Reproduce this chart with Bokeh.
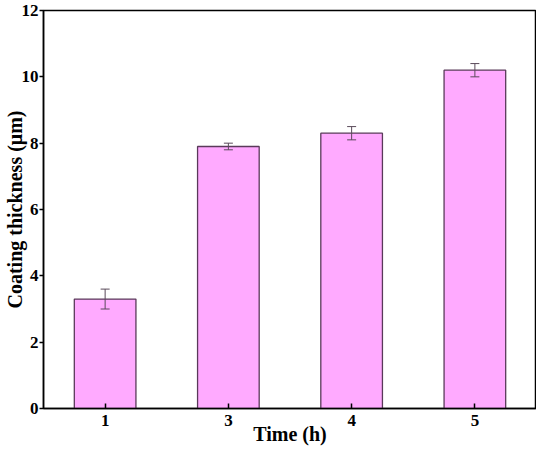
from bokeh.plotting import figure
from bokeh.models import ColumnDataSource, Whisker, FactorRange, FixedTicker
from bokeh.embed import file_html
from bokeh.resources import INLINE

times = ["1", "3", "4", "5"]
thickness = [3.3, 7.9, 8.3, 10.2]
errors = [0.3, 0.1, 0.2, 0.2]
y_ticks = [0, 2, 4, 6, 8, 10, 12]

src = ColumnDataSource(dict(
    x=times, top=thickness,
    upper=[t + e for t, e in zip(thickness, errors)],
    lower=[t - e for t, e in zip(thickness, errors)],
))

p = figure(width=536, height=447, x_range=FactorRange(*times), y_range=(0, 12),
           output_backend="svg", toolbar_location=None,
           min_border_top=10, min_border_right=0, min_border_left=0, min_border_bottom=0)

p.vbar(x="x", top="top", width=0.5, source=src, fill_color="#FFAAFF",
       line_color="#5A3A5A", line_width=1.3)
w = Whisker(base="x", upper="upper", lower="lower", source=src,
            line_color="#5A4A5A", line_width=1, level="overlay")
w.upper_head.size = 9
w.lower_head.size = 9
w.upper_head.line_color = "#5A4A5A"
w.lower_head.line_color = "#5A4A5A"
p.add_layout(w)

p.grid.visible = False
p.outline_line_color = "black"
p.outline_line_width = 1.5
p.background_fill_color = "white"
p.border_fill_color = "white"

font = "Liberation Serif"
for ax in (p.xaxis[0], p.yaxis[0]):
    ax.axis_line_color = "black"
    ax.axis_line_width = 1.5
    ax.major_tick_line_color = "black"
    ax.major_tick_line_width = 1.5
    ax.minor_tick_line_color = None
    ax.major_label_text_font = font
    ax.major_label_text_font_style = "bold"
    ax.major_label_text_font_size = "17px"
    ax.major_label_text_color = "black"
    ax.axis_label_text_font = font
    ax.axis_label_text_font_style = "bold"
    ax.axis_label_text_font_size = "20px"
    ax.axis_label_text_color = "black"

p.xaxis.axis_label = "Time (h)"
p.xaxis.major_tick_in = 5
p.xaxis.major_tick_out = 0
p.xaxis.major_label_standoff = 6
p.xaxis.axis_label_standoff = -6

p.yaxis.axis_label = "Coating thickness (μm)"
p.yaxis.ticker = FixedTicker(ticks=y_ticks)
p.yaxis.major_tick_in = 0
p.yaxis.major_tick_out = 4
p.yaxis.major_label_standoff = 1
p.yaxis.axis_label_standoff = -7

open("out.html", "w").write(file_html(p, INLINE))
